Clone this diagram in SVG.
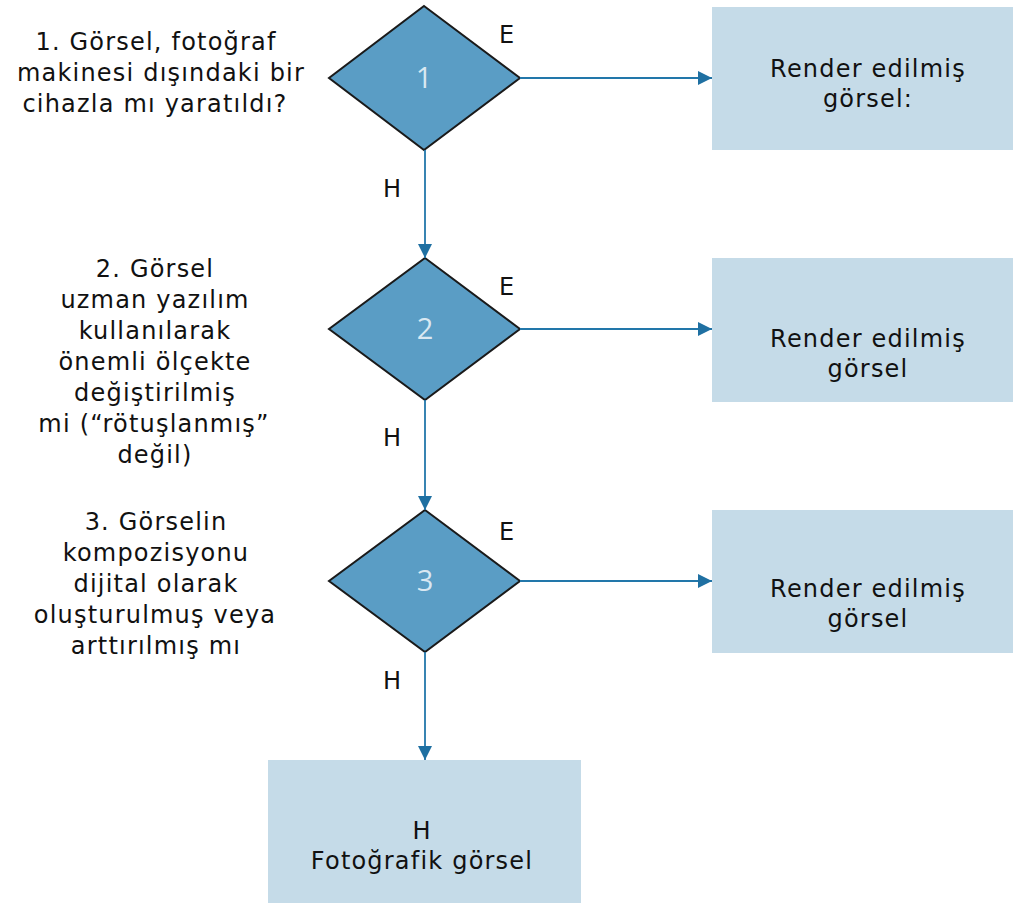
<svg xmlns="http://www.w3.org/2000/svg" width="1015" height="906" viewBox="0 0 1015 906">
<style>
.t{font-family:"DejaVu Sans","Liberation Sans",sans-serif;font-size:24px;fill:#111;letter-spacing:1.2px}
.c{text-anchor:middle}
.box{fill:#c5dbe8}
.dia{fill:#5a9dc5;stroke:#1a1a1a;stroke-width:2}
.num{font-family:"Open Sans","DejaVu Sans",sans-serif;font-size:29px;fill:#d9e8f2;text-anchor:middle}
.con{stroke:#2277aa;stroke-width:1.8;fill:none}
</style>
<defs>
<marker id="ah" viewBox="0 0 14 14" refX="14" refY="7" markerWidth="14" markerHeight="14" markerUnits="userSpaceOnUse" orient="auto">
<path d="M0,0 L14,7 L0,14 Z" fill="#1f70a2"/>
</marker>
</defs>
<rect width="1015" height="906" fill="#fff"/>

<g id="q1">
<text class="t c" x="156" y="50">1. Görsel, fotoğraf</text>
<text class="t c" x="161" y="81">makinesi dışındaki bir</text>
<text class="t c" x="155" y="112">cihazla mı yaratıldı?</text>
</g>
<g id="q2">
<text class="t c" x="155" y="277">2. Görsel</text>
<text class="t c" x="155" y="308">uzman yazılım</text>
<text class="t c" x="155" y="339">kullanılarak</text>
<text class="t c" x="155" y="370">önemli ölçekte</text>
<text class="t c" x="155" y="401">değiştirilmiş</text>
<text class="t c" x="154" y="432">mi (“rötuşlanmış”</text>
<text class="t c" x="155" y="463">değil)</text>
</g>
<g id="q3">
<text class="t c" x="156" y="530">3. Görselin</text>
<text class="t c" x="156" y="561">kompozisyonu</text>
<text class="t c" x="156" y="592">dijital olarak</text>
<text class="t c" x="155" y="623">oluşturulmuş veya</text>
<text class="t c" x="156" y="654">arttırılmış mı</text>
</g>

<g id="d1">
<polygon class="dia" points="424,6 520,78 424,150 329,78"/>
<text class="num" x="424" y="88">1</text>
</g>
<g id="d2">
<polygon class="dia" points="425,258 520,329 425,400 329,329"/>
<text class="num" x="425" y="339">2</text>
</g>
<g id="d3">
<polygon class="dia" points="425,510 520,581 425,652 329,581"/>
<text class="num" x="425" y="591">3</text>
</g>

<g id="r1">
<rect class="box" x="712" y="7" width="301" height="143"/>
<text class="t c" x="868" y="77">Render edilmiş</text>
<text class="t c" x="868" y="107">görsel:</text>
</g>
<g id="r2">
<rect class="box" x="712" y="258" width="301" height="144"/>
<text class="t c" x="868" y="347">Render edilmiş</text>
<text class="t c" x="868" y="377">görsel</text>
</g>
<g id="r3">
<rect class="box" x="712" y="510" width="301" height="143"/>
<text class="t c" x="868" y="597">Render edilmiş</text>
<text class="t c" x="868" y="627">görsel</text>
</g>
<g id="r4">
<rect class="box" x="268" y="760" width="313" height="143"/>
<text class="t c" x="422" y="839">H</text>
<text class="t c" x="422" y="869">Fotoğrafik görsel</text>
</g>

<g id="connectors">
<line class="con" x1="520" y1="78" x2="712" y2="78" marker-end="url(#ah)"/>
<line class="con" x1="520" y1="329" x2="712" y2="329" marker-end="url(#ah)"/>
<line class="con" x1="520" y1="581" x2="712" y2="581" marker-end="url(#ah)"/>
<line class="con" x1="425" y1="150" x2="425" y2="258" marker-end="url(#ah)"/>
<line class="con" x1="425" y1="400" x2="425" y2="510" marker-end="url(#ah)"/>
<line class="con" x1="425" y1="652" x2="425" y2="760" marker-end="url(#ah)"/>
<text class="t" x="499" y="43">E</text>
<text class="t" x="499" y="295">E</text>
<text class="t" x="499" y="540">E</text>
<text class="t" x="383" y="197">H</text>
<text class="t" x="383" y="446">H</text>
<text class="t" x="383" y="689">H</text>
</g>
</svg>
